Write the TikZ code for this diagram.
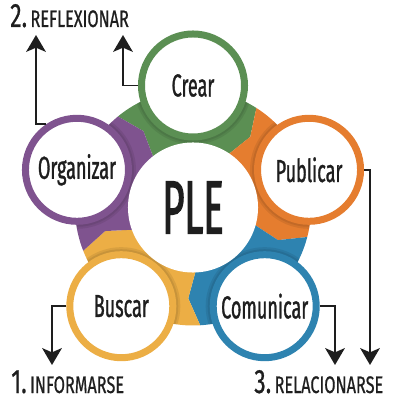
\documentclass[tikz,border=0pt]{standalone}
\usepackage{fontspec}
\setmainfont{Fira Sans}
\newfontfamily\circfont{Fira Sans}[FakeStretch=0.57, FakeBold=1]
\newfontfamily\plefont{Fira Sans}[FakeStretch=0.5, FakeBold=1.5]
\newfontfamily\stagefont{Fira Sans}[FakeStretch=0.68, FakeBold=0.6]
\usetikzlibrary{arrows.meta, positioning, calc}
\definecolor{plegreen}{RGB}{91,143,83}
\definecolor{pleorange}{RGB}{229,125,47}
\definecolor{pleblue}{RGB}{46,131,176}
\definecolor{pleyellow}{RGB}{236,174,69}
\definecolor{plepurple}{RGB}{127,83,143}
\definecolor{inkgray}{RGB}{30,30,30}

\begin{document}
\begin{tikzpicture}[x=0.025cm, y=0.025cm,
    toolcirc/.style={circle, draw, line width=4.98pt, fill=white, minimum size=2.575cm, inner sep=0pt,
        text=inkgray, font=\circfont\fontsize{22.5}{26}\selectfont},
    stagearrow/.style={draw=inkgray, line width=1.4pt, -{Stealth[length=12pt, width=14pt, inset=3pt]}},
    stagelabel/.style={anchor=base west, text=inkgray, inner sep=0pt, font=\stagefont}]
    \useasboundingbox (0,0) rectangle (400,400);
    \coordinate (ple) at (193,192.5);

    % Ring segments
    \foreach \a/\col in {90/plegreen, 18/pleorange, -54/pleblue, -126/pleyellow, 162/plepurple} {
        \fill[\col, shift={(ple)}] ({\a+39.5}:60) arc[start angle=\a+39.5, end angle=\a-32.5, radius=60]
            -- ({\a-39}:91) -- ({\a-32.5}:118)
            arc[start angle=\a-32.5, end angle=\a+39.5, radius=118] -- ({\a+33}:91) -- cycle;
    }

    % Shadows of the tool circles on the ring
    \begin{scope}
        \clip (ple) circle[radius=118];
        \foreach \a in {90,18,-54,-126,162} {
            \fill[black, opacity=0.08, shift={(ple)}] (\a:122) circle[radius=59];
            \fill[black, opacity=0.08, shift={(ple)}] (\a:122) circle[radius=57];
        }
    \end{scope}

    % Tool circles
    \node[toolcirc, draw=plegreen] (crear) at ($(ple)+(90:122)$) {Crear};
    \node[toolcirc, draw=pleorange] (publicar) at ($(ple)+(18:122)$) {Publicar};
    \node[toolcirc, draw=pleblue] (comunicar) at ($(ple)+(-54:122)$) {Comunicar};
    \node[toolcirc, draw=pleyellow] (buscar) at ($(ple)+(-126:122)$) {Buscar};
    \node[toolcirc, draw=plepurple] (organizar) at ($(ple)+(162:122)$) {Organizar};

    % PLE
    \node[circle, fill=white, minimum size=3.25cm, inner sep=0pt, text=inkgray,
        font=\plefont\fontsize{54}{60}\selectfont] (plenode) at (ple) {PLE};

    % Arrows to the stages
    \coordinate (tipA) at (36,365);
    \coordinate (tipB) at (123,365);
    \coordinate (tipC) at (52,35);
    \coordinate (tipD) at (335,35);
    \coordinate (tipE) at (370,35);
    \draw[stagearrow] (organizar.124) -| (tipA);
    \draw[stagearrow] (crear.west) -| (tipB);
    \draw[stagearrow] (buscar.west) -| (tipC);
    \draw[stagearrow] (comunicar.east) -| (tipD);
    \draw[stagearrow] (publicar.east) -| (tipE);

    % Stage labels
    \node[stagelabel] (reflexionar) at (10,373) {{\fontsize{24}{27}\selectfont 2.} {\fontsize{17}{19}\selectfont REFLEXIONAR}};
    \node[stagelabel] (informarse) at (11,7) {{\fontsize{24}{27}\selectfont 1.} {\fontsize{17}{19}\selectfont INFORMARSE}};
    \node[stagelabel] (relacionarse) at (254,7) {{\fontsize{24}{27}\selectfont 3.} {\fontsize{17}{19}\selectfont RELACIONARSE}};
\end{tikzpicture}
\end{document}
